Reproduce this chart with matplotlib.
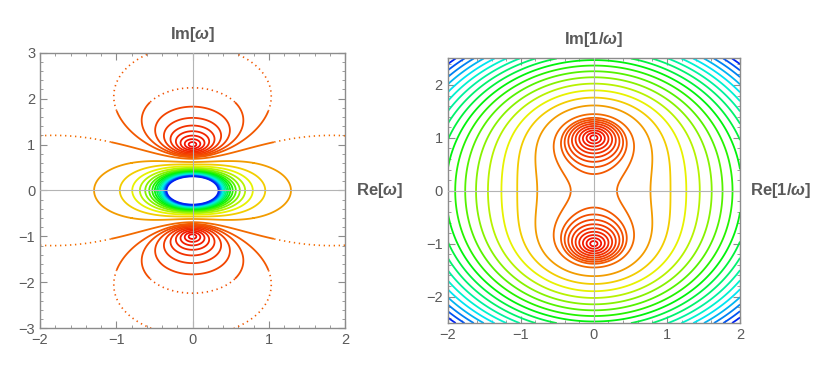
import numpy as np
import matplotlib
matplotlib.use("Agg")
import matplotlib.pyplot as plt
from matplotlib.colors import hsv_to_rgb
from matplotlib.ticker import MultipleLocator

plt.rcParams['font.family'] = ['Liberation Sans', 'DejaVu Sans']
plt.rcParams['mathtext.fontset'] = 'custom'
plt.rcParams['mathtext.it'] = 'Liberation Sans:italic:bold'
plt.rcParams['mathtext.rm'] = 'Liberation Sans:bold'

# contour levels of |1 + w^-2| (= |z^2 + 1| with z = 1/w)
niveliai_vidiniai = [0.1, 0.2, 0.3, 0.4, 0.5, 0.6, 0.7, 0.8, 0.9]
niveliai_isoriniai = [1.1, 1.6, 2.1, 2.6, 3.1, 3.6, 4.1, 4.6, 5.1, 5.6,
                      6.1, 6.6, 7.1, 7.6, 8.1, 8.6, 9.1, 9.6]
taskuoti_niveliai = {0.8: 2.0, 0.9: 2.0, 1.1: 1.5}   # level -> radius beyond which drawn dotted
c_max = 10.0

kairys_x = (-2, 2)
kairys_y = (-3, 3)
desinys_x = (-2, 2)
desinys_y = (-2.5, 2.5)

zymes_x = [-2, -1, 0, 1, 2]
zymes_kairys_y = [-3, -2, -1, 0, 1, 2, 3]
zymes_desinys_y = [-2, -1, 0, 1, 2]

pilka = '#8c8c8c'
tekstas = '#5a5a5a'


def spalva(c):
    """ Hue nuo raudonos (0) iki mėlynos (c_max). """
    h = 0.67 * min(c / c_max, 1.0)
    return hsv_to_rgb((h, 1.0, 0.95))


def braizyti(ax, X, Y, F, r):
    visi = niveliai_vidiniai + niveliai_isoriniai
    for c in visi:
        if c in taskuoti_niveliai:
            R = taskuoti_niveliai[c]
            ax.contour(X, Y, np.ma.masked_where(r > R, F), levels=[c],
                       colors=[spalva(c)], linewidths=1.3)
            ax.contour(X, Y, np.ma.masked_where(r < R, F), levels=[c],
                       colors=[spalva(c)], linewidths=1.2, linestyles=[(0, (0.8, 2.2))])
        else:
            ax.contour(X, Y, F, levels=[c], colors=[spalva(c)], linewidths=1.3)


def remelis(ax, xlim, ylim, yt):
    ax.set_xlim(*xlim)
    ax.set_ylim(*ylim)
    ax.axhline(0, color='#b4b4b4', lw=0.8, zorder=3)
    ax.axvline(0, color='#b4b4b4', lw=0.8, zorder=3)
    ax.set_xticks(zymes_x)
    ax.set_yticks(yt)
    ax.xaxis.set_minor_locator(MultipleLocator(0.2))
    ax.yaxis.set_minor_locator(MultipleLocator(0.2))
    ax.tick_params(which='both', direction='in', top=True, right=True, color=pilka,
                   labelcolor=tekstas, labelsize=10.5)
    ax.tick_params(which='major', length=5, width=0.8)
    ax.tick_params(which='minor', length=2.5, width=0.6)
    for s in ax.spines.values():
        s.set_color(pilka)
        s.set_linewidth(1.0)


fig = plt.figure(figsize=(8.3, 3.74), dpi=100)

# kairė: w plokštuma
ax1 = fig.add_axes([0.0482, 0.1222, 0.3675, 0.7369])
x = np.linspace(kairys_x[0], kairys_x[1], 801)
y = np.linspace(kairys_y[0], kairys_y[1], 1201)
X, Y = np.meshgrid(x, y)
W = X + 1j * Y
with np.errstate(all='ignore'):
    F1 = np.abs(1 + 1 / W**2)
F1 = np.nan_to_num(F1, nan=1e6, posinf=1e6)
braizyti(ax1, X, Y, F1, np.abs(W))
remelis(ax1, kairys_x, kairys_y, zymes_kairys_y)
ax1.text(0.5, 1.03, r'Im[$\omega$]', transform=ax1.transAxes, ha='center', va='bottom',
         fontsize=12, fontweight='bold', color=tekstas)
ax1.text(1.035, 0.5, r'Re[$\omega$]', transform=ax1.transAxes, ha='left', va='center',
         fontsize=12, fontweight='bold', color=tekstas)

# dešinė: 1/w plokštuma
ax2 = fig.add_axes([0.5394, 0.1361, 0.3522, 0.7075])
x = np.linspace(desinys_x[0], desinys_x[1], 801)
y = np.linspace(desinys_y[0], desinys_y[1], 1001)
X, Y = np.meshgrid(x, y)
Z = X + 1j * Y
F2 = np.abs(Z**2 + 1)
braizyti(ax2, X, Y, F2, np.zeros_like(X))
remelis(ax2, desinys_x, desinys_y, zymes_desinys_y)
ax2.text(0.5, 1.035, r'Im[1/$\omega$]', transform=ax2.transAxes, ha='center', va='bottom',
         fontsize=12, fontweight='bold', color=tekstas)
ax2.text(1.035, 0.5, r'Re[1/$\omega$]', transform=ax2.transAxes, ha='left', va='center',
         fontsize=12, fontweight='bold', color=tekstas)

fig.savefig('out.png', dpi=100)
